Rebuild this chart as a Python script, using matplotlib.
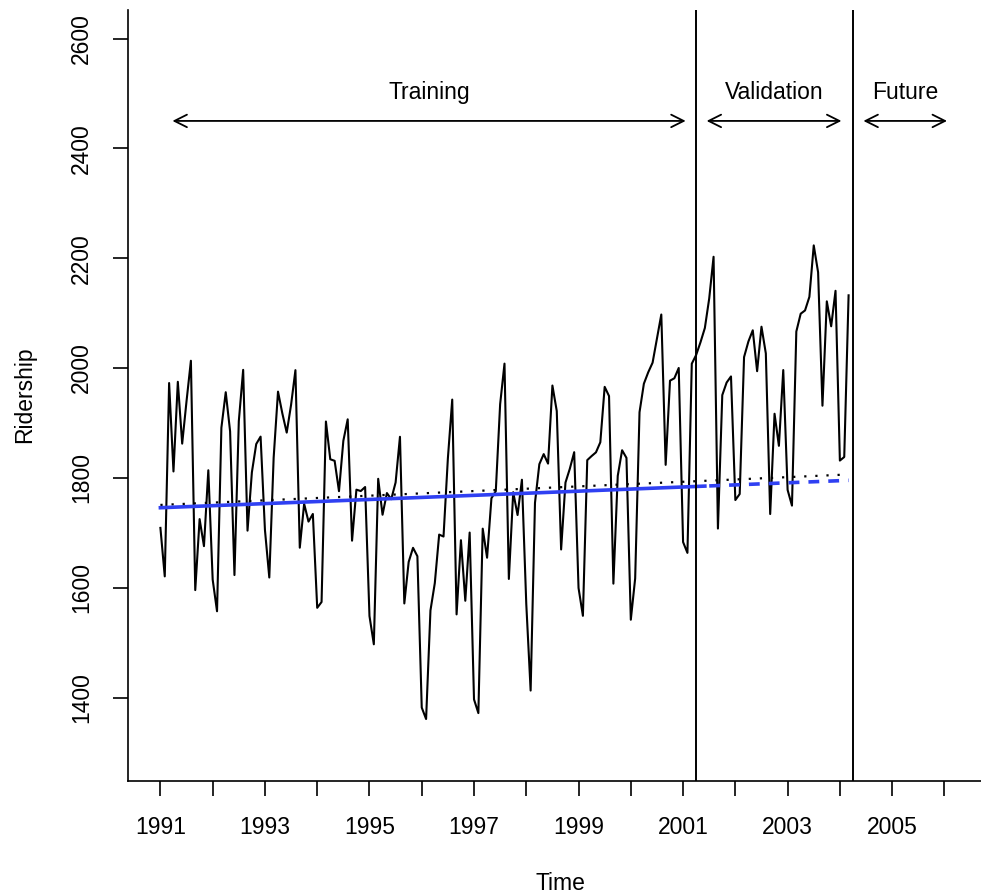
import numpy as np
import matplotlib
matplotlib.use("Agg")
import matplotlib.pyplot as plt

plt.rcParams['font.family'] = ['Liberation Sans', 'DejaVu Sans']

# monthly ridership (thousands), Jan 1991 - Mar 2004
ridership = [
    1708.917, 1620.586, 1972.715, 1811.665, 1974.964, 1862.356, 1939.860, 2013.264, 1595.657, 1724.924, 1675.667, 1813.863,
    1614.827, 1557.088, 1891.223, 1955.981, 1884.714, 1623.042, 1903.309, 1996.712, 1703.897, 1810.000, 1861.601, 1875.122,
    1705.259, 1618.535, 1836.709, 1957.043, 1917.185, 1882.398, 1933.009, 1996.167, 1672.841, 1752.827, 1720.377, 1734.292,
    1563.365, 1573.959, 1902.639, 1833.888, 1831.049, 1775.755, 1867.508, 1906.608, 1685.632, 1778.546, 1775.995, 1783.350,
    1548.415, 1496.925, 1798.316, 1732.895, 1772.345, 1761.207, 1791.655, 1874.820, 1571.309, 1646.948, 1672.631, 1657.311,
    1381.758, 1360.852, 1558.575, 1608.420, 1696.696, 1693.183, 1835.516, 1942.573, 1551.401, 1686.508, 1576.204, 1700.433,
    1396.588, 1371.690, 1707.522, 1654.604, 1762.903, 1775.800, 1934.219, 2008.055, 1615.924, 1773.910, 1732.368, 1796.626,
    1570.330, 1412.691, 1754.641, 1824.932, 1843.289, 1825.964, 1968.172, 1921.645, 1669.597, 1791.474, 1816.714, 1846.754,
    1599.427, 1548.804, 1832.333, 1839.720, 1846.498, 1864.852, 1965.743, 1949.002, 1607.373, 1803.664, 1850.309, 1836.435,
    1541.660, 1616.928, 1919.538, 1971.493, 1992.301, 2009.763, 2053.996, 2097.471, 1823.706, 1976.997, 1981.408, 2000.153,
    1683.148, 1663.404, 2007.928, 2023.792, 2047.008, 2072.913, 2126.717, 2202.638, 1707.693, 1950.716, 1973.614, 1984.729,
    1759.629, 1770.595, 2019.912, 2048.398, 2068.763, 1994.267, 2075.258, 2026.560, 1734.155, 1916.771, 1858.345, 1996.352,
    1778.033, 1749.489, 2066.466, 2098.899, 2104.911, 2129.671, 2223.349, 2174.360, 1931.406, 2121.470, 2076.054, 2140.677,
    1831.508, 1838.006, 2132.446,
]
start_year = 1991
n_train = 123          # Jan 1991 - Mar 2001
split_lines = [2001.25, 2004.25]
year_ticks = list(range(1991, 2007))
y_ticks = [1400, 1600, 1800, 2000, 2200, 2400, 2600]

# period arrows: (label, x from, x to)
periods = [("Training", 1991.23, 2001.05),
           ("Validation", 2001.45, 2004.03),
           ("Future", 2004.45, 2006.05)]

y = np.array(ridership)
t = np.arange(1, len(y) + 1)
time = start_year + (t - 1) / 12.0

# linear trend and exponential trend fitted on the training part
lin = np.polyfit(t[:n_train], y[:n_train], 1)
lin_fit = np.polyval(lin, t)
expo = np.polyfit(t[:n_train], np.log(y[:n_train]), 1)
exp_fit = np.exp(np.polyval(expo, t))

fig = plt.figure(figsize=(9.81, 8.96), dpi=100)
ax = fig.add_axes([128 / 981, 115 / 896, 853 / 981, 771 / 896])

ax.plot(time, y, color='black', lw=1.5)
ax.plot(time, lin_fit, color='black', lw=1.6, linestyle=(0, (1, 4)))
blue = '#2f40f2'
ax.plot(time[:n_train + 3], exp_fit[:n_train + 3], color=blue, lw=2.6)
ax.plot(time[n_train + 3:], exp_fit[n_train + 3:], color=blue, lw=2.6, dashes=(3, 2.5))

for x in split_lines:
    ax.axvline(x, color='black', lw=1.4)

for label, x0, x1 in periods:
    ax.annotate('', xy=(x1, 2450), xytext=(x0, 2450),
                arrowprops=dict(arrowstyle='<->,head_length=0.9,head_width=0.45',
                                color='black', lw=1.3, shrinkA=0, shrinkB=0))
    ax.text((x0 + x1) / 2, 2480, label, ha='center', va='bottom', fontsize=16.5)

ax.set_xlim(1990.38, 2006.70)
ax.set_ylim(1248, 2652)
ax.set_xticks(year_ticks)
ax.set_xticklabels([str(yr) if yr % 2 == 1 else '' for yr in year_ticks])
ax.set_yticks(y_ticks)
ax.set_yticklabels([str(v) for v in y_ticks], rotation=90, va='center')
ax.tick_params(axis='both', direction='out', length=11, width=1.2, labelsize=16.5, pad=14)

for side in ['top', 'right']:
    ax.spines[side].set_visible(False)
for side in ['left', 'bottom']:
    ax.spines[side].set_linewidth(1.2)

fig.text(25 / 981, 1 - 395 / 896, 'Ridership', rotation=90, ha='center', va='center', fontsize=16.5)
fig.text(560 / 981, 1 - 883 / 896, 'Time', ha='center', va='center', fontsize=16.5)

fig.savefig('out.png', dpi=100)
